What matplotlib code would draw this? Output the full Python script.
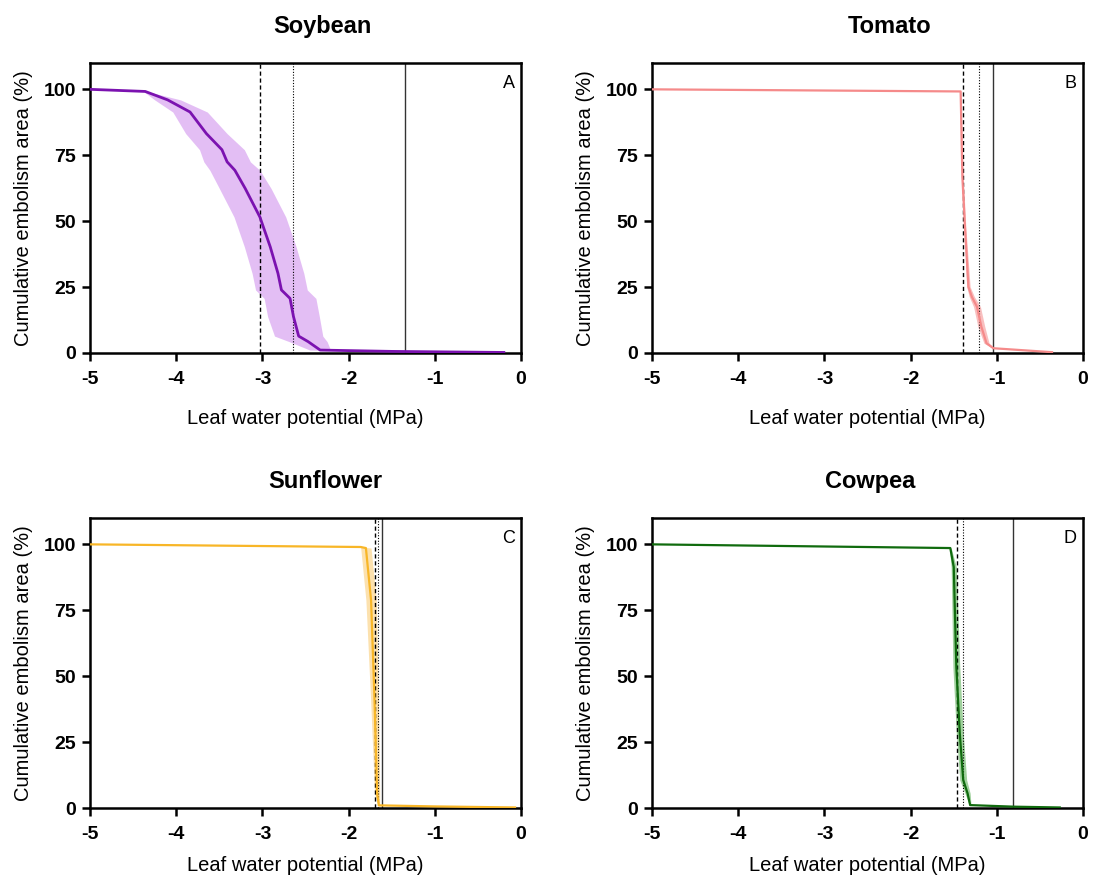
import numpy as np
import matplotlib.pyplot as plt

plt.rcParams['font.family'] = ['Liberation Sans', 'DejaVu Sans']
plt.rcParams['axes.unicode_minus'] = False

# Mean cumulative embolism curves (x = leaf water potential, MPa) with SD of x
soy_x = [-5, -4.36, -4.10, -3.84, -3.65, -3.47, -3.41, -3.32, -3.20, -3.03, -2.91,
         -2.82, -2.78, -2.68, -2.64, -2.58, -2.47, -2.33, -1.50, -0.20]
soy_y = [100, 99.2, 96, 91.4, 83.2, 77.1, 72.5, 69.3, 62.4, 51.6, 40.3,
         30.2, 23.9, 20.7, 13.8, 6.4, 4.3, 1.1, 0.6, 0.2]
soy_sd = [0, 0.02, 0.15, 0.20, 0.24, 0.26, 0.27, 0.29, 0.30, 0.30, 0.30,
          0.30, 0.30, 0.30, 0.30, 0.28, 0.22, 0.12, 0.04, 0.01]

tom_x = [-5, -1.42, -1.40, -1.37, -1.33, -1.29, -1.23, -1.18, -1.12, -1.04, -0.36]
tom_y = [100, 99.2, 66.8, 47.8, 25.1, 21.3, 17.5, 10.0, 3.7, 1.8, 0.3]
tom_sd = [0, 0, 0.01, 0.01, 0.02, 0.03, 0.04, 0.04, 0.03, 0.01, 0]

sun_x = [-5, -1.86, -1.80, -1.74, -1.70, -1.67, -1.65, -1.00, -0.07]
sun_y = [100, 99.0, 98.6, 78.8, 40.9, 5.6, 1.0, 0.6, 0.2]
sun_sd = [0, 0.01, 0.06, 0.06, 0.045, 0.03, 0.01, 0, 0]

cow_x = [-5, -1.54, -1.50, -1.47, -1.43, -1.39, -1.34, -1.31, -0.80, -0.27]
cow_y = [100, 98.6, 91.4, 53.5, 28.3, 10.6, 5.6, 1.1, 0.5, 0.2]
cow_sd = [0, 0.01, 0.03, 0.04, 0.04, 0.04, 0.03, 0.01, 0, 0]

# reference potentials: P50 (dashed), P12 (dotted), threshold (solid)
soy_ref = [-3.03, -2.64, -1.35]
tom_ref = [-1.39, -1.21, -1.04]
sun_ref = [-1.70, -1.66, -1.61]
cow_ref = [-1.46, -1.39, -0.81]

xticks = [-5, -4, -3, -2, -1, 0]
yticks = [0, 25, 50, 75, 100]

panels = [
    ("Soybean", "A", soy_x, soy_y, soy_sd, soy_ref, '#7b12b0', '#dfb3f3', 2.0, 0.54),
    ("Tomato", "B", tom_x, tom_y, tom_sd, tom_ref, '#f58a8a', '#f8b4b4', 1.6, 0.55),
    ("Sunflower", "C", sun_x, sun_y, sun_sd, sun_ref, '#f8b627', '#fcdca0', 1.6, 0.545),
    ("Cowpea", "D", cow_x, cow_y, cow_sd, cow_ref, '#106b0e', '#8fc98c', 1.6, 0.507),
]

fig = plt.figure(figsize=(10.94, 8.82), dpi=100)
boxes = [(0.0823, 0.5998), (0.596, 0.5998), (0.0823, 0.0839), (0.596, 0.0839)]
xpads = [15, 15, 9.5, 9.5]
W, H = 0.394, 0.3288

for (name, letter, xs, ys, sd, ref, col, band, lw, tx), (l, b), xp in zip(panels, boxes, xpads):
    ax = fig.add_axes([l, b, W, H])
    xs = np.array(xs); ys = np.array(ys); sd = np.array(sd)
    ax.fill_betweenx(ys, xs - sd, xs + sd, color=band, lw=0, alpha=0.85, zorder=1)
    ax.axvline(ref[0], color='k', ls=(0, (3, 2)), lw=1.0, zorder=2)
    ax.axvline(ref[1], color='k', ls=(0, (1, 1.5)), lw=0.8, zorder=2)
    ax.axvline(ref[2], color='#333333', ls='-', lw=1.0, zorder=2)
    ax.plot(xs, ys, color=col, lw=lw, zorder=3, solid_joinstyle='round')
    ax.set_xlim(-5, 0)
    ax.set_ylim(0, 110)
    for s in ax.spines.values():
        s.set_linewidth(1.8)
    ax.tick_params(axis='x', direction='out', length=6, width=1.8, pad=7)
    ax.tick_params(axis='y', direction='out', length=6, width=1.8, pad=4)
    ax.set_xticks(xticks)
    ax.set_xticklabels([str(v) for v in xticks], fontsize=14, fontweight='bold')
    ax.set_yticks(yticks)
    ax.set_yticklabels([str(v) for v in yticks], fontsize=14, fontweight='bold')
    ax.set_xlabel("Leaf water potential (MPa)", fontsize=14.5, labelpad=xp)
    ax.set_ylabel("Cumulative embolism area (%)", fontsize=14.5, labelpad=7.5)
    ax.text(tx, 1.085, name, transform=ax.transAxes, ha='center', va='bottom',
            fontsize=17, fontweight='bold')
    ax.text(0.985, 0.96, letter, transform=ax.transAxes, ha='right', va='top',
            fontsize=13)

fig.savefig("out.png", dpi=100)
